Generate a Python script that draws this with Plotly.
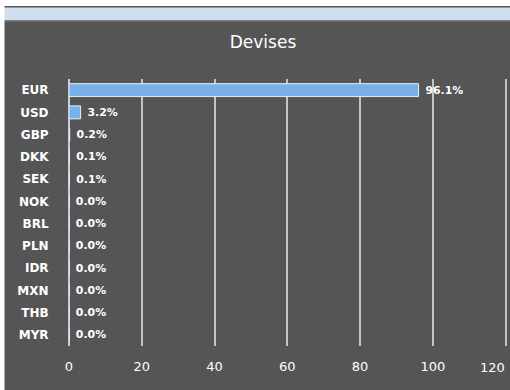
import plotly.graph_objects as go

currencies = ["EUR", "USD", "GBP", "DKK", "SEK", "NOK", "BRL", "PLN", "IDR", "MXN", "THB", "MYR"]
shares = [96.1, 3.2, 0.2, 0.1, 0.1, 0.0, 0.0, 0.0, 0.0, 0.0, 0.0, 0.0]
x_ticks = [0, 20, 40, 60, 80, 100, 120]
title_text = "Devises"

W, H = 510, 390
L, R, T, B = 69, 3, 79, 44
pw, ph = W - L - R, H - T - B

def px(x):
    return (x - L) / pw

def py(y):
    return (H - B - y) / ph

fig = go.Figure(go.Bar(
    x=shares, y=currencies, orientation="h",
    marker=dict(color="#78b0e8", line=dict(color="#e8eef8", width=1)),
    text=[f"\u00a0{v:.1f}%" for v in shares],
    textposition="outside", cliponaxis=False,
    textfont=dict(family="DejaVu Sans", size=11, color="white", weight="bold"),
    width=0.58,
))

shapes = [
    dict(type="rect", xref="paper", yref="paper", x0=px(0), x1=px(W), y0=py(0), y1=py(6.5),
         fillcolor="white", line=dict(width=0), layer="above"),
    dict(type="rect", xref="paper", yref="paper", x0=px(0), x1=px(W), y0=py(6), y1=py(7.5),
         fillcolor="#555555", line=dict(width=0), layer="above"),
    dict(type="rect", xref="paper", yref="paper", x0=px(0), x1=px(W), y0=py(7.5), y1=py(20),
         fillcolor="#d0dff0", line=dict(width=0), layer="above"),
    dict(type="rect", xref="paper", yref="paper", x0=px(0), x1=px(W), y0=py(20), y1=py(21.5),
         fillcolor="#7a808a", line=dict(width=0), layer="above"),
    dict(type="rect", xref="paper", yref="paper", x0=px(0), x1=px(4.5), y0=py(0), y1=py(H),
         fillcolor="white", line=dict(width=0), layer="above"),
]

shown_ticks = [t for t in x_ticks if t < max(x_ticks)]

fig.update_layout(
    width=W, height=H,
    margin=dict(l=L, r=R, t=T, b=B),
    paper_bgcolor="#555555", plot_bgcolor="#555555",
    showlegend=False,
    title=dict(text=title_text, x=263 / W, xanchor="center", y=1 - 42 / H, yanchor="middle",
               yref="container", xref="container",
               font=dict(family="DejaVu Sans", size=17, color="white")),
    xaxis=dict(range=[0, 120.4], tickvals=x_ticks, ticktext=[str(t) if t in shown_ticks else "" for t in x_ticks],
               showgrid=True, gridcolor="#c4c4c4", gridwidth=1.5,
               zeroline=True, zerolinecolor="#c8cfdc", zerolinewidth=1.5,
               ticks="outside", ticklen=8, tickcolor="rgba(0,0,0,0)",
               tickfont=dict(family="DejaVu Sans", size=13, color="white"), fixedrange=True),
    yaxis=dict(autorange="reversed", showgrid=False, ticks="outside", ticklen=17,
               tickcolor="rgba(0,0,0,0)",
               tickfont=dict(family="DejaVu Sans", size=12, color="white", weight="bold")),
    shapes=shapes,
    annotations=[dict(x=max(x_ticks), xref="x", y=py(367), yref="paper", yanchor="middle",
                      xanchor="right", xshift=1, text=str(max(x_ticks)), showarrow=False,
                      font=dict(family="DejaVu Sans", size=13, color="white"))],
)

fig.write_html("out.html")
